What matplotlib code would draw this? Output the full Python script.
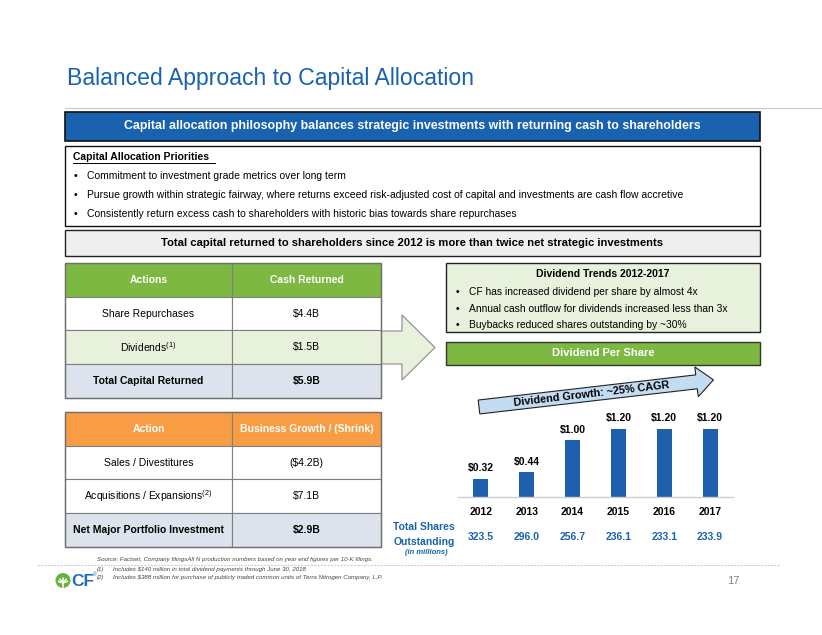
import numpy as np
import matplotlib.pyplot as plt
import matplotlib.patches as mpatches
import matplotlib.transforms as mtransforms

plt.rcParams['font.family'] = ['Liberation Sans', 'DejaVu Sans']
plt.rcParams['mathtext.fontset'] = 'custom'
plt.rcParams['mathtext.rm'] = 'Liberation Sans'
plt.rcParams['mathtext.bf'] = 'Liberation Sans:bold'

# data
years = ['2012', '2013', '2014', '2015', '2016', '2017']
dps = [0.32, 0.44, 1.00, 1.20, 1.20, 1.20]
shares = [323.5, 296.0, 256.7, 236.1, 233.1, 233.9]

returned_rows = ['Share Repurchases', 'Dividends$^{(1)}$', 'Total Capital Returned']
returned_vals = ['$4.4B', '$1.5B', '$5.9B']
growth_rows = ['Sales / Divestitures', 'Acquisitions / Expansions$^{(2)}$', 'Net Major Portfolio Investment']
growth_vals = ['($4.2B)', '$7.1B', '$2.9B']

priorities = ['Commitment to investment grade metrics over long term',
              'Pursue growth within strategic fairway, where returns exceed risk-adjusted cost of capital and investments are cash flow accretive',
              'Consistently return excess cash to shareholders with historic bias towards share repurchases']
trends = ['CF has increased dividend per share by almost 4x',
          'Annual cash outflow for dividends increased less than 3x',
          'Buybacks reduced shares outstanding by ~30%']

BLUE = '#1862b0'
GREEN = '#7db843'
ORANGE = '#f99d45'
LGREEN = '#e7f1dc'
LBLUE = '#dde3ec'
BAR = '#1e5fae'

W, H = 822, 635
fig = plt.figure(figsize=(W / 100, H / 100), dpi=100)
ax = fig.add_axes([0, 0, 1, 1])
ax.set_xlim(0, W)
ax.set_ylim(H, 0)
ax.axis('off')


def box(x0, y0, x1, y1, fc, ec='#222222', lw=1.0, z=1):
    ax.add_patch(mpatches.Rectangle((x0, y0), x1 - x0, y1 - y0, fc=fc, ec=ec, lw=lw, zorder=z))


# title
ax.text(67, 79, 'Balanced Approach to Capital Allocation', fontsize=16.6, color=BLUE, va='center')
ax.plot([65, 822], [108, 108], color='#c8c8c8', lw=0.8)

# banner
box(65, 112, 760, 141, BLUE, ec='#111111', lw=1.2)
ax.text(412, 126.5, 'Capital allocation philosophy balances strategic investments with returning cash to shareholders',
        color='white', fontsize=8.9, fontweight='bold', ha='center', va='center')

# priorities
box(65, 146, 760, 226, 'white', ec='#111111', lw=1.0)
ax.text(73, 157, 'Capital Allocation Priorities', fontsize=7.5, fontweight='bold', va='center')
ax.plot([73, 215], [162.5, 162.5], color='black', lw=0.7)
for i, t in enumerate(priorities):
    y = 176 + i * 19
    ax.text(74, y, '•', fontsize=7.5, va='center')
    ax.text(87, y, t, fontsize=7.5, va='center')

box(65, 230, 760, 256, '#efefef', ec='#222222', lw=1.0)
ax.text(412, 243, 'Total capital returned to shareholders since 2012 is more than twice net strategic investments',
        fontsize=8.1, fontweight='bold', ha='center', va='center')

# big arrow behind tables
arrow = mpatches.Polygon([(232, 331), (402, 331), (402, 315), (435, 347.5),
                          (402, 380), (402, 364), (232, 364)],
                         closed=True, fc=LGREEN, ec='#8a8a8a', lw=0.8, zorder=0.5)
ax.add_patch(arrow)


def table(y0, head, head_fc, rows, vals):
    rh = 33.7
    cols = [65, 232, 381]
    box(65, y0, 232, y0 + rh, head_fc, ec='#7f7f7f', lw=0.8)
    box(232, y0, 381, y0 + rh, head_fc, ec='#7f7f7f', lw=0.8)
    ax.text(148.5, y0 + rh / 2, head[0], color='white', fontsize=7.5, fontweight='bold', ha='center', va='center')
    ax.text(306.5, y0 + rh / 2, head[1], color='white', fontsize=7.5, fontweight='bold', ha='center', va='center')
    fills = ['white', LGREEN if head_fc == GREEN else 'white', LBLUE]
    for i in range(3):
        yy = y0 + rh * (i + 1)
        fw = 'bold' if i == 2 else 'normal'
        box(cols[0], yy, cols[1], yy + rh, fills[i], ec='#7f7f7f', lw=0.8)
        box(cols[1], yy, cols[2], yy + rh, fills[i], ec='#7f7f7f', lw=0.8)
        ax.text(148.5, yy + rh / 2, rows[i], fontsize=7.5, fontweight=fw, ha='center', va='center')
        ax.text(306.5, yy + rh / 2, vals[i], fontsize=7.5, fontweight=fw, ha='center', va='center')
    ax.add_patch(mpatches.Rectangle((65, y0), 316, rh * 4, fc='none', ec='#6f6f6f', lw=1.0, zorder=2))


table(263, ('Actions', 'Cash Returned'), GREEN, returned_rows, returned_vals)
table(412, ('Action', 'Business Growth / (Shrink)'), ORANGE, growth_rows, growth_vals)

# dividend trends box
box(446, 263, 760, 332, LGREEN, ec='#222222', lw=1.0)
ax.text(603, 274, 'Dividend Trends 2012-2017', fontsize=7.5, fontweight='bold', ha='center', va='center')
for i, t in enumerate(trends):
    y = 292 + i * 16.5
    ax.text(456, y, '•', fontsize=7.4, va='center')
    ax.text(469, y, t, fontsize=7.4, va='center')

box(446, 342, 760, 365, GREEN, ec='#333333', lw=1.0)
ax.text(603, 353.5, 'Dividend Per Share', color='white', fontsize=8, fontweight='bold', ha='center', va='center')

# growth arrow (rotated)
L, bw, hw, hl = 236, 7, 15, 17
pts = np.array([(0, -bw), (L - hl, -bw), (L - hl, -hw), (L, 0), (L - hl, hw), (L - hl, bw), (0, bw)])
ang = np.deg2rad(-6.6)
rot = np.array([[np.cos(ang), -np.sin(ang)], [np.sin(ang), np.cos(ang)]])
pts = pts @ rot.T + np.array([479, 407])
ax.add_patch(mpatches.Polygon(pts, closed=True, fc='#c4dcf2', ec='#222222', lw=0.8, zorder=3))
ax.text(592, 394, 'Dividend Growth: ~25% CAGR', fontsize=7.8, fontweight='bold', rotation=6.6,
        rotation_mode='anchor', ha='center', va='center', zorder=4)

# bar chart
bx = fig.add_axes([458 / W, (H - 497) / H, 275 / W, 97 / H])
xpos = np.arange(len(years))
bx.bar(xpos, dps, width=0.33, color=BAR)
bx.set_xlim(-0.5, 5.5)
bx.set_ylim(0, 97 * 0.01765)
for s in ['top', 'right', 'left']:
    bx.spines[s].set_visible(False)
bx.spines['bottom'].set_color('#d0d0d0')
bx.spines['bottom'].set_linewidth(1.0)
bx.set_yticks([])
bx.set_xticks(xpos)
bx.set_xticklabels(years, fontsize=7.5, fontweight='bold')
bx.tick_params(axis='x', length=0, pad=7)
bx.patch.set_alpha(0)
for x, v in zip(xpos, dps):
    bx.annotate(f'${v:.2f}', (x, v), xytext=(0, 4), textcoords='offset points',
                ha='center', va='bottom', fontsize=7.5, fontweight='bold')

# shares outstanding row
tr = mtransforms.blended_transform_factory(bx.transData, ax.transData)
for x, s in zip(xpos, shares):
    ax.text(x, 537, f'{s:.1f}', transform=tr, color=BLUE, fontsize=7.5, fontweight='bold',
            ha='center', va='center')
ax.text(455, 527, 'Total Shares', color=BLUE, fontsize=7.5, fontweight='bold', ha='right', va='center')
ax.text(455, 542, 'Outstanding', color=BLUE, fontsize=7.5, fontweight='bold', ha='right', va='center')
ax.text(448, 553, '(in millions)', color=BLUE, fontsize=5.5, fontweight='bold', style='italic',
        ha='right', va='center')

# footer
ax.plot([37, 780], [564.5, 564.5], color='#cfcfcf', lw=0.8, ls=(0, (2, 1)))
fn = dict(fontsize=4.4, style='italic', color='#444444', va='center')
ax.text(97, 559.5, 'Source: Factset, Company filingsAll N production numbers based on year end figures per 10-K filings.', **fn)
ax.text(97, 569, '(1)', **fn)
ax.text(113, 569, 'Includes $140 million in total dividend payments through June 30, 2018', **fn)
ax.text(97, 577, '(2)', **fn)
ax.text(113, 577, 'Includes $388 million for purchase of publicly traded common units of Terra Nitrogen Company, L.P.', **fn)

# logo
ax.add_patch(mpatches.Circle((63, 580.5), 7.5, fc='#6ab23e', ec='none'))
for a in [90, 50, 130, 20, 160]:
    r = np.deg2rad(a)
    ax.plot([63, 63 + 5 * np.cos(r)], [583, 583 - 5 * np.sin(r)], color='white', lw=1.1, solid_capstyle='round')
ax.plot([63, 63], [583, 587], color='white', lw=1.1)
ax.text(71, 581, 'CF', fontsize=12.5, fontweight='bold', color='#1f6cc0', va='center')
ax.text(93, 574.5, '®', fontsize=3.5, color='#1f6cc0', va='center')

ax.text(733, 581, '17', fontsize=8, color='#808080', ha='center', va='center')

fig.savefig('out.png', dpi=100)
